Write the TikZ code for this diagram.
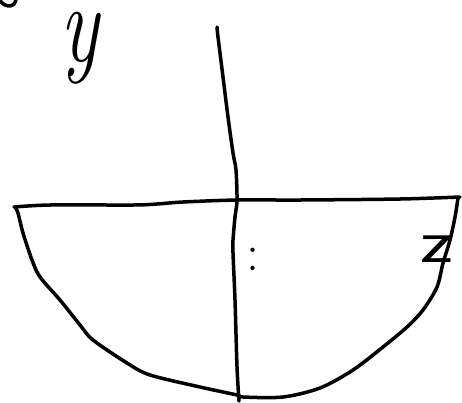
\documentclass[tikz,border=0pt]{standalone}
\usepackage{graphicx}
\tikzset{
  ink/.style={line width=3.5pt, line cap=round, line join=round, black},
  hand/.style={inner sep=0pt, outer sep=0pt, text=black}
}
\begin{document}
\begin{tikzpicture}[x=1pt,y=-1pt]
\useasboundingbox[fill=white] (0,0) rectangle (462,402);
% partial stroke at top-left corner
\draw[ink] plot[smooth] coordinates {(0,1) (5,5) (10,6) (14,4) (16,0)};
% vertical axis
\draw[ink] plot[smooth, tension=0.5] coordinates {(217,27) (218,37) (223,77) (228,117) (233,153) (236,170) (237,200) (235,217) (233,240) (233,253) (235,300) (237,367) (239,401)};
% horizontal line
\draw[ink] plot[smooth, tension=0.5] coordinates {(14,207) (50,205) (133,205) (157,204) (183,202) (237,200) (300,200) (400,199) (460,197)};
% bowl
\draw[ink] plot[smooth, tension=0.5] coordinates {(15,207) (18,213) (23,233) (32,260) (40,277) (60,300) (80,325) (93,340) (127,363) (150,375) (200,387) (237,395) (243,397) (283,397) (320,388) (353,370) (383,347) (407,327) (423,310) (437,287) (443,263) (450,240) (455,217) (458,198)};
% labels
\node[hand] (ylabel) at (80,48) {\scalebox{0.72}[1]{\fontsize{112}{112}\selectfont\itshape y}};
\node[hand] (zlabel) at (437,249) {\scalebox{1.3}[1]{\fontsize{62}{62}\selectfont\sffamily z}};
\node[hand] (colon) at (253,259) {\fontsize{52}{52}\selectfont :};
\end{tikzpicture}
\end{document}
